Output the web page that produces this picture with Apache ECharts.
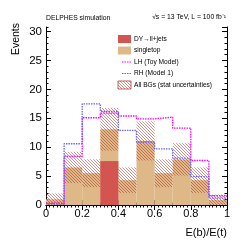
<!DOCTYPE html>
<html><head><meta charset="utf-8">
<script src="https://cdn.jsdelivr.net/npm/echarts@6/dist/echarts.min.js"></script>
<style>html,body{margin:0;padding:0;background:#fff}#c{width:252px;height:243px}</style>
</head><body><div id="c"></div>
<script>
const binEdges = [0, 0.1, 0.2, 0.3, 0.4, 0.5, 0.6, 0.7, 0.8, 0.9, 1.0];
const dyJets    = [0, 0, 0, 7.6, 0, 0, 0, 0, 0, 0];
const singletop = [1.0, 6.5, 5.5, 5.5, 4.3, 11.1, 5.5, 7.9, 4.3, 0.9];
const bgStatErr = [1.0, 2.7, 2.4, 3.7, 2.2, 3.4, 2.4, 2.8, 2.2, 0.9];
const lhToy     = [0.3, 8.4, 15.1, 15.9, 15.4, 14.9, 15.2, 13.3, 7.7, 1.6];
const rhModel1  = [0.2, 10.6, 17.5, 16.2, 12.9, 10.9, 9.7, 8.1, 4.9, 1.2];
const yMax = 30.8;

const C_DY = '#d4544f', C_ST = '#deb887', C_LH = '#ff00ff', C_RH = '#6666ff';
const FONT = 'Liberation Sans, Arial, sans-serif';

function hatchCanvas() {
  const s = 3;
  const c = document.createElement('canvas');
  c.width = s; c.height = s;
  const g = c.getContext('2d');
  g.strokeStyle = 'rgba(165,50,40,0.75)';
  g.lineWidth = 0.7;
  g.beginPath();
  g.moveTo(0, 0); g.lineTo(s, s);
  g.moveTo(-s, 0); g.lineTo(0, s);
  g.moveTo(0, -s); g.lineTo(s, 0);
  g.moveTo(s, 0); g.lineTo(2 * s, s);
  g.moveTo(0, s); g.lineTo(s, 2 * s);
  g.stroke();
  return c;
}
const hatch = { image: hatchCanvas(), repeat: 'repeat' };

// rect data: [x0, x1, yLow, yHigh]
const nb = binEdges.length - 1;
const stRects = [], dyRects = [], bandRects = [];
for (let i = 0; i < nb; i++) {
  const tot = dyJets[i] + singletop[i];
  stRects.push([binEdges[i], binEdges[i+1], 0, tot]);
  if (dyJets[i] > 0) dyRects.push([binEdges[i], binEdges[i+1], 0, dyJets[i]]);
  bandRects.push([binEdges[i], binEdges[i+1], Math.max(0, tot - bgStatErr[i]), tot + bgStatErr[i]]);
}
function stepData(v) {
  const d = [];
  for (let i = 0; i < nb; i++) d.push([binEdges[i], v[i]]);
  d.push([binEdges[nb], v[nb-1]]);
  return d;
}
function rectSeries(data, fill, z) {
  return {
    type: 'custom', data: data, z: z, silent: true,
    encode: { x: [0, 1], y: [2, 3] },
    renderItem: function (params, api) {
      const p0 = api.coord([api.value(0), api.value(2)]);
      const p1 = api.coord([api.value(1), api.value(3)]);
      return { type: 'rect',
        shape: { x: p0[0], y: p1[1], width: p1[0] - p0[0], height: p0[1] - p1[1] },
        style: { fill: fill } };
    }
  };
}

const chart = echarts.init(document.getElementById('c'), null, { renderer: 'canvas' });
const axLine = { show: true, lineStyle: { color: '#000', width: 1 } };
const xBase = { type: 'value', min: 0, max: 1, interval: 0.2, splitLine: { show: false },
  axisLine: axLine,
  axisTick: { inside: true, length: 5, lineStyle: { color: '#000' } },
  minorTick: { show: true, splitNumber: 10, length: 2.5, lineStyle: { color: '#000' } } };
const yMajor = { type: 'value', min: 0, max: yMax, interval: 5, splitLine: { show: false },
  axisLine: axLine,
  axisTick: { inside: true, length: 5, lineStyle: { color: '#000' } } };
const yMinor = { type: 'value', min: 0, max: yMax, interval: 1, splitLine: { show: false },
  axisLine: { show: false }, axisLabel: { show: false },
  axisTick: { inside: true, length: 2.5, lineStyle: { color: '#000' } } };

const legY = [39, 50.5, 62, 73.5, 85];
const legX = 118, legTX = 134;
const legText = ['DY\u2192ll+jets', 'singletop', 'LH (Toy Model)', 'RH (Model 1)', 'All BGs (stat uncertainties)'];
const graphics = [
  { type: 'text', left: 46, top: 15, style: { text: 'DELPHES simulation', font: '6.8px ' + FONT, fill: '#000' } },
  { type: 'text', right: 26, top: 14, style: { text: '\u221As = 13 TeV, L = 100 fb\u207B\u00B9', font: '6.8px ' + FONT, fill: '#000' } },
  { type: 'text', left: 11, top: 23, rotation: Math.PI / 2, style: { text: 'Events', font: '10.5px ' + FONT, fill: '#000', align: 'right', verticalAlign: 'top' } , originX: 0, originY: 0},
  { type: 'text', right: 25, top: 227, style: { text: 'E(b)/E(t)', font: '11px ' + FONT, fill: '#000' } },
  { type: 'rect', shape: { x: legX, y: legY[0] - 4, width: 13, height: 8 }, style: { fill: C_DY } },
  { type: 'rect', shape: { x: legX, y: legY[1] - 4, width: 13, height: 8 }, style: { fill: C_ST } },
  { type: 'line', shape: { x1: legX + 4, y1: legY[2], x2: legX + 13, y2: legY[2] }, style: { stroke: C_LH, lineWidth: 1.2, lineDash: [1.5, 1] } },
  { type: 'line', shape: { x1: legX + 4, y1: legY[3], x2: legX + 13, y2: legY[3] }, style: { stroke: C_RH, lineWidth: 1.2, lineDash: [1.5, 1] } },
  { type: 'rect', shape: { x: legX, y: legY[4] - 4, width: 13, height: 8 }, style: { fill: hatch, stroke: '#b0403a', lineWidth: 0.8 } }
];
legText.forEach(function (t, i) {
  graphics.push({ type: 'text', x: legTX, y: legY[i], style: { text: t, font: '6.6px ' + FONT, fill: '#000', verticalAlign: 'middle' } });
});

chart.setOption({
  animation: false,
  backgroundColor: '#fff',
  grid: { left: 46, right: 25, top: 27, bottom: 38, containLabel: false },
  xAxis: [
    Object.assign({}, xBase, { position: 'bottom',
      axisLabel: { show: true, fontSize: 11, fontFamily: FONT, color: '#000', margin: 3 } }),
    Object.assign({}, xBase, { position: 'top', axisLabel: { show: false } })
  ],
  yAxis: [
    Object.assign({}, yMajor, { position: 'left',
      axisLabel: { show: true, fontSize: 11.5, fontFamily: FONT, color: '#000', margin: 4, showMaxLabel: false } }),
    Object.assign({}, yMinor, { position: 'left' }),
    Object.assign({}, yMajor, { position: 'right', axisLabel: { show: false } }),
    Object.assign({}, yMinor, { position: 'right' })
  ],
  series: [
    rectSeries(stRects, C_ST, 1),
    rectSeries(dyRects, C_DY, 2),
    rectSeries(bandRects, hatch, 3),
    { type: 'line', data: stepData(lhToy), step: 'end', symbol: 'none', z: 5, silent: true,
      lineStyle: { color: C_LH, width: 1.3, type: [1.5, 1] } },
    { type: 'line', data: stepData(rhModel1), step: 'end', symbol: 'none', z: 5, silent: true,
      lineStyle: { color: C_RH, width: 1.3, type: [1.5, 1] } }
  ],
  graphic: graphics
});
</script></body></html>
